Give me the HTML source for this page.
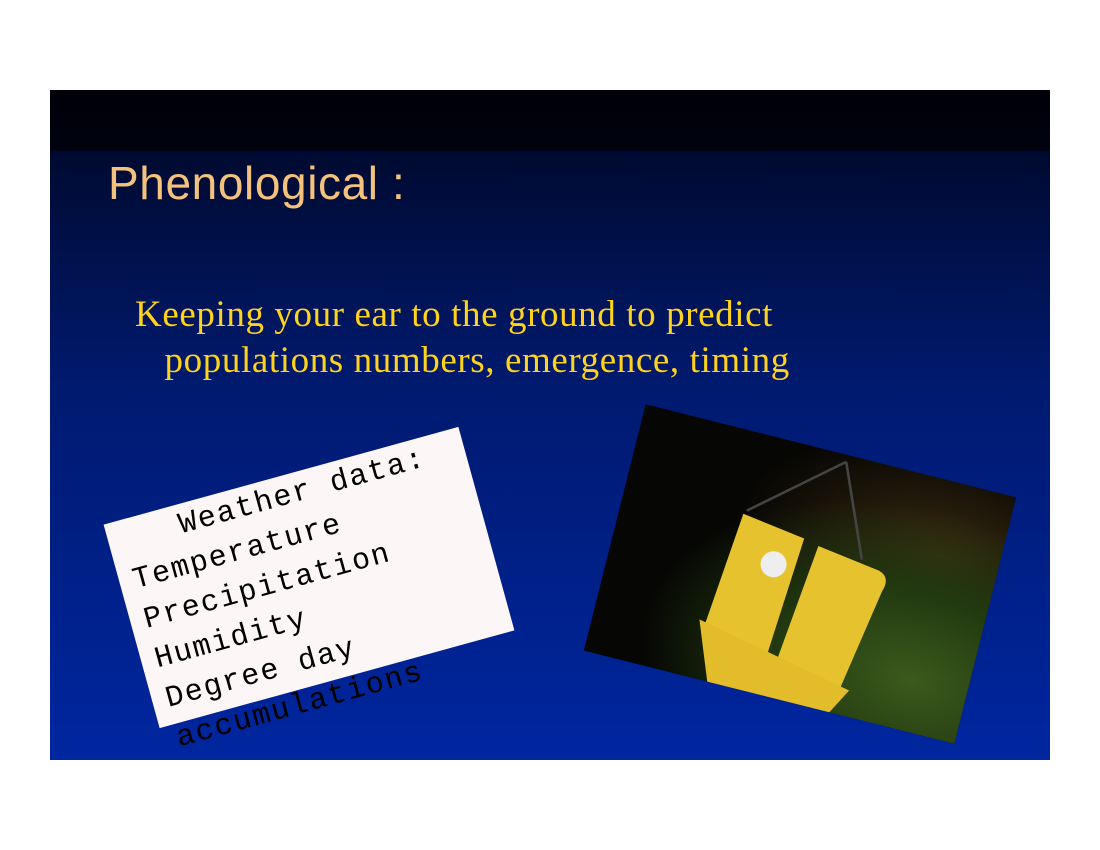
<!DOCTYPE html>
<html><head><meta charset="utf-8"><style>
body{margin:0;width:1100px;height:850px;background:#fff;position:relative;overflow:hidden}
#slide{position:absolute;left:50px;top:90px;width:1000px;height:670px;background:linear-gradient(#000008 0px,#00020f 60px,#000a30 62px,#001a70 300px,#0026a0 670px);overflow:hidden}
.abs{position:absolute}
#title{left:58px;top:68px;font:46px/50px "Liberation Sans",sans-serif;letter-spacing:0.6px;color:#f4c27c;white-space:nowrap}
#sub{left:85px;top:202px;font:37px/46px "Liberation Serif",serif;letter-spacing:0.6px;color:#ffd21c;white-space:nowrap}
#card{left:75px;top:382px;width:368px;height:211px;background:#fdf6f6;transform:rotate(-15.4deg);transform-origin:center}
#card pre{margin:0;position:absolute;left:14px;top:2px;font:30px/41px "Liberation Mono",monospace;letter-spacing:1.6px;color:#000}
#photo{left:559px;top:357px;width:382px;height:254px;transform:rotate(14.1deg);transform-origin:center;background:radial-gradient(ellipse at 85% 80%,#3c5a1c 0,#223a10 30%,transparent 60%),radial-gradient(ellipse at 85% 30%,#3a2a10 0,transparent 45%),#060604;overflow:hidden}
</style></head><body>
<div id="slide">
<div id="title" class="abs">Phenological :</div>
<div id="sub" class="abs">Keeping your ear to the ground to predict<br>&nbsp;&nbsp;&nbsp;populations numbers, emergence, timing</div>
<div id="card" class="abs"><pre>   Weather data:
Temperature
Precipitation
Humidity
Degree day
accumulations</pre></div>
<div id="photo" class="abs">
<svg width="382" height="254">
<g transform="translate(-45,-45) scale(1.3)">
<line x1="195" y1="40" x2="130" y2="95" stroke="#444" stroke-width="2"/>
<line x1="195" y1="40" x2="225" y2="110" stroke="#444" stroke-width="2"/>
<path d="M128 98 L178 105 L172 200 L120 188 Z" fill="#e6c22e"/>
<path d="M190 108 L240 115 Q250 118 246 130 L232 215 L180 205 Z" fill="#e6c22e"/>
<path d="M115 185 L240 210 L200 285 L150 275 Z" fill="#e2bc2a"/>
<circle cx="160" cy="130" r="10" fill="#eee"/>
</g>
</svg></div>
</div>
</body></html>
